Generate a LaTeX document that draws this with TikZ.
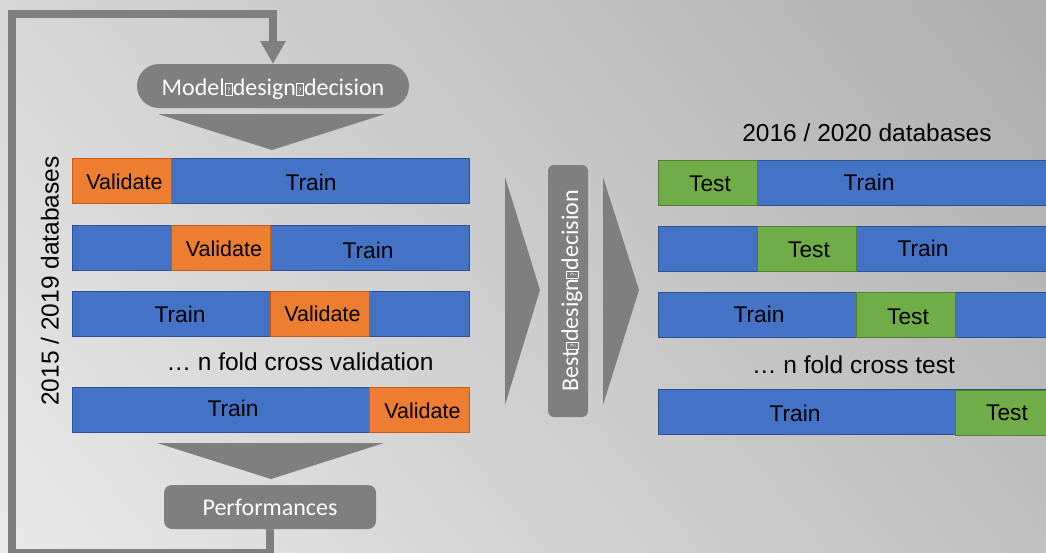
\documentclass[tikz,border=0pt]{standalone}
\usepackage{fontspec}
\setmainfont{Liberation Sans}
\newfontfamily\calib{Carlito}
\usetikzlibrary{arrows.meta}

\definecolor{shapegray}{HTML}{7F7F7F}
\definecolor{trainblue}{HTML}{4472C4}
\definecolor{trainedge}{HTML}{2F528F}
\definecolor{valorange}{HTML}{ED7D31}
\definecolor{valedge}{HTML}{C55A11}
\definecolor{testgreen}{HTML}{70AD47}
\definecolor{testedge}{HTML}{507E32}

% placeholder glyph box standing in for the missing separator character
\newcommand\tofu{{\setlength{\fboxsep}{0pt}\setlength{\fboxrule}{0.7pt}%
  \fbox{\makebox[6.5pt]{\rule{0pt}{11.5pt}\raisebox{2pt}{\fontsize{8}{8}\selectfont ?}}}}}

\begin{document}
\begin{tikzpicture}[x=1pt,y=-1pt,
  seg/.style={draw, line width=1pt, inner sep=0pt, outer sep=0pt,
    anchor=north west, minimum height=45.5pt},
  trainseg/.style={seg, fill=trainblue, draw=trainedge},
  valseg/.style={seg, fill=valorange, draw=valedge},
  testseg/.style={seg, fill=testgreen, draw=testedge},
  bartext/.style={anchor=base, inner sep=0pt, font=\fontsize{22.7}{27}\selectfont},
  valtext/.style={anchor=base, inner sep=0pt, font=\fontsize{21.5}{26}\selectfont},
  caption/.style={anchor=base, inner sep=0pt, font=\fontsize{24.5}{29}\selectfont},
  graybox/.style={fill=shapegray, text=white, inner sep=0pt, outer sep=0pt,
    font=\calib\fontsize{24}{29}\selectfont},
  looppath/.style={draw=shapegray, line width=8pt},
  chevron/.style={fill=shapegray},
]

% background: linear gray gradient, lighter towards the lower left
\begin{scope}
\clip (0,0) rectangle (1046,552);
\foreach \k in {0,...,118} {
  \pgfmathsetmacro\sa{-41+0.5*\k}
  \pgfmathsetmacro\sb{\sa+0.8}
  \pgfmathtruncatemacro\gv{round(215+\sa+0.25)}
  \fill[fill={rgb,255:red,\gv;green,\gv;blue,\gv}]
    (0,{\sa/0.0326}) -- (1046,{(\sa+41)/0.0326}) -- (1046,{(\sb+41)/0.0326}) -- (0,{\sb/0.0326}) -- cycle;
}
\end{scope}
\useasboundingbox (0,0) rectangle (1046,552);

% ---------- left: cross validation folds ----------
\node[trainseg, minimum width=397pt] (l1t) at (72,158) {};
\node[valseg, minimum width=99.25pt] (l1v) at (72,158) {};
\node[valtext] (l1vt) at (124.5,189.5) {Validate};
\node[bartext] (l1tt) at (311,190.5) {Train};

\node[trainseg, minimum width=397pt] (l2t) at (72,225) {};
\node[valseg, minimum width=99.25pt] (l2v) at (171.25,225) {};
\node[valtext] (l2vt) at (224,256) {Validate};
\node[bartext] (l2tt) at (368,258) {Train};

\node[trainseg, minimum width=397pt] (l3t) at (72,291) {};
\node[valseg, minimum width=99.25pt] (l3v) at (270.5,291) {};
\node[bartext] (l3tt) at (180,322.7) {Train};
\node[valtext] (l3vt) at (322.5,321.7) {Validate};

\node[caption] (lfold) at (300,370.7) {… n fold cross validation};

\node[trainseg, minimum width=397pt] (l4t) at (72,387) {};
\node[valseg, minimum width=99.25pt] (l4v) at (369.75,387) {};
\node[bartext] (l4tt) at (233,416.7) {Train};
\node[valtext] (l4vt) at (422.5,418.3) {Validate};

\node[caption, rotate=90] (ldb) at (58.5,281) {2015 / 2019 databases};

% ---------- right: cross test folds ----------
\node[caption] (rdb) at (867,141.7) {2016 / 2020 databases};

\node[trainseg, minimum width=397pt] (r1t) at (658,160) {};
\node[testseg, minimum width=99.25pt] (r1s) at (658,160) {};
\node[bartext] (r1st) at (710,191.7) {Test};
\node[bartext] (r1tt) at (869,190) {Train};

\node[trainseg, minimum width=397pt] (r2t) at (658,226) {};
\node[testseg, minimum width=99.25pt] (r2s) at (757.25,226) {};
\node[bartext] (r2st) at (809,257.3) {Test};
\node[bartext] (r2tt) at (923,256.7) {Train};

\node[trainseg, minimum width=397pt] (r3t) at (658,292) {};
\node[testseg, minimum width=99.25pt] (r3s) at (856.5,292) {};
\node[bartext] (r3tt) at (759,322.7) {Train};
\node[bartext] (r3st) at (908,324.3) {Test};

\node[caption] (rfold) at (853.5,373.3) {… n fold cross test};

\node[trainseg, minimum width=397pt] (r4t) at (658,389) {};
\node[testseg, minimum width=99.25pt] (r4s) at (955.75,390) {};
\node[bartext] (r4tt) at (795,421.7) {Train};
\node[bartext] (r4st) at (1007,420.7) {Test};

% ---------- gray flow shapes ----------
\node[graybox, rounded corners=22pt, minimum width=272pt, minimum height=44pt,
  text height=18pt, text depth=0pt] (model) at (273,86) {Model\tofu design\tofu decision};
\fill[chevron] (158,114) -- (385,114) -- (272,150) -- cycle;

\fill[chevron] (157,443) -- (384,443) -- (271,479) -- cycle;
\node[graybox, rounded corners=8pt, minimum width=212pt, minimum height=44pt,
  text height=16pt, text depth=0pt] (perf) at (270,507) {Performances};

\fill[chevron] (505,177) -- (540,290) -- (505,405) -- cycle;
\node[graybox, rounded corners=6pt, rotate=90, minimum width=252pt, minimum height=40pt,
  text height=20pt, text depth=0pt] (best) at (568,291) {Best\tofu design\tofu decision};
\fill[chevron] (603,177) -- (639,290) -- (603,405) -- cycle;

% ---------- feedback loop ----------
\coordinate (loopb) at (270,552.5);
\coordinate (loopbl) at (12,552.5);
\coordinate (looptl) at (12,14);
\coordinate (looptr) at (273,14);
\draw[looppath, -{Triangle[width=24pt,length=23pt]}]
  (perf.south) -- (loopb) -- (loopbl) -- (looptl) -- (looptr) -- (model.north);

\end{tikzpicture}
\end{document}
